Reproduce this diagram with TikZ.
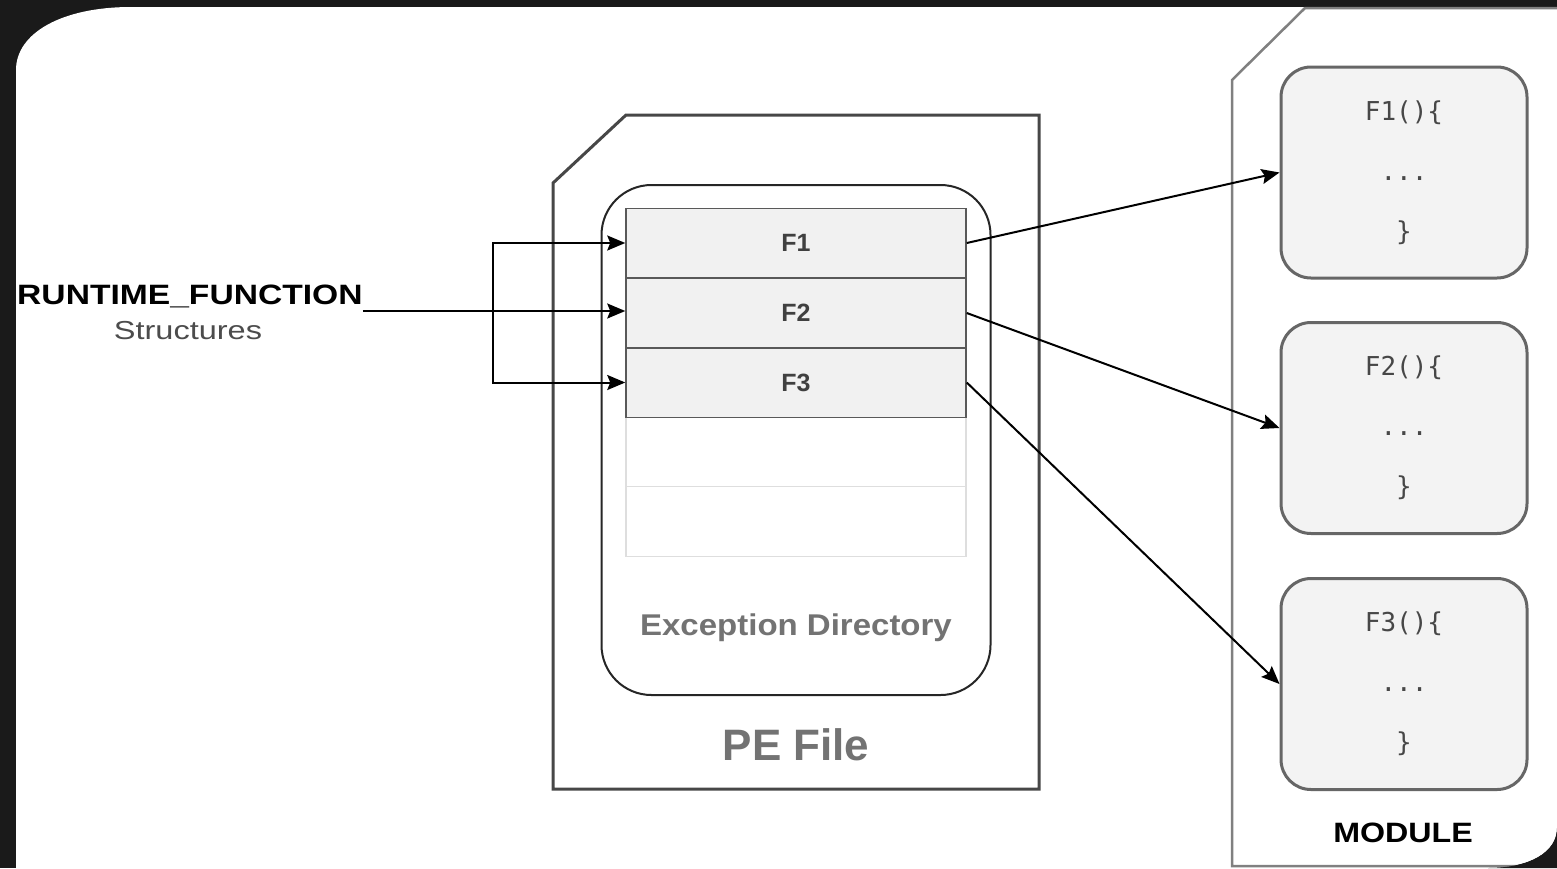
\documentclass[tikz,border=0pt]{standalone}
\usepackage{fontspec}
\setmainfont{Liberation Sans}
\setmonofont{DejaVu Sans Mono}
\usetikzlibrary{arrows.meta}
\definecolor{bgdark}{HTML}{1A1A1A}
\definecolor{rowfill}{HTML}{F1F1F1}
\definecolor{funcfill}{HTML}{F3F3F3}
\tikzset{
  arr/.style={-{Stealth[length=18pt,width=15pt,inset=3pt]},line width=2pt},
  pefile/.style={draw=black!72,line width=3pt},
  modshape/.style={draw=black!50,line width=2.5pt},
  dirbox/.style={draw=black!85,line width=2pt,rounded corners=50pt,minimum width=389pt,minimum height=510pt},
  rowbox/.style={draw=black!65,fill=rowfill,line width=1.5pt,minimum width=340pt,minimum height=69.5pt,inner sep=0pt,
    font=\bfseries\fontsize{25}{28}\selectfont,text=black!75},
  emptyrow/.style={draw=black!13,line width=1.2pt,minimum width=340pt,minimum height=69.5pt,inner sep=0pt},
  funcbox/.style={draw=black!60,fill=funcfill,line width=3pt,rounded corners=30pt,minimum width=246pt,minimum height=211pt,
    align=center,font=\ttfamily\fontsize{26}{60}\selectfont,text=black!72}
}
\begin{document}
\begin{tikzpicture}[x=1pt,y=-1pt]
  \useasboundingbox (0,0) rectangle (1557,868);
  \fill[bgdark] (0,0) rectangle (1557,868);
  \fill[white] (16,868) -- (16,70) .. controls (16,33) and (62,7) .. (131,7) -- (1557,7) -- (1557,828)
    .. controls (1557,852) and (1530,868) .. (1488,868) -- cycle;

  % pe file
  \draw[pefile] (553,183) -- (626,115) -- (1039,115) -- (1039,789) -- (553,789) -- cycle;
  \node[dirbox] (dir) at (796,440) {};
  \node[emptyrow] (e4) at (796,452) {};
  \node[emptyrow] (e5) at (796,521.5) {};
  \node[rowbox] (f1) at (796,243) {F1};
  \node[rowbox] (f2) at (796,313) {F2};
  \node[rowbox] (f3) at (796,382.5) {F3};
  \node[font=\bfseries\fontsize{30}{34}\selectfont,text=black!55,xscale=1.1] (exlbl) at (796,628) {Exception Directory};
  \node[font=\bfseries\fontsize{44}{48}\selectfont,text=black!55] (pelbl) at (796,745) {PE File};

  % runtime_function
  \node[anchor=base west,inner sep=0pt,font=\bfseries\fontsize{28}{32}\selectfont,xscale=1.2] (rt) at (17,304) {RUNTIME\_FUNCTION};
  \node[anchor=base,inner sep=0pt,font=\fontsize{26}{30}\selectfont,text=black!70,xscale=1.25] (st) at (188,339) {Structures};
  \coordinate (rtend) at (rt.base east |- 0,311);
  \coordinate (jn) at (493,311);
  \draw[arr] (rtend) -- (f2.west |- rtend);
  \draw[arr] (jn) |- (f1.west);
  \draw[arr] (jn) |- (f3.west);

  % module
  \draw[modshape] (1565,866) -- (1232,866) -- (1232,80) -- (1305,8) -- (1565,8);
  \node[funcbox] (m1) at (1404,172.5) {F1()\{\\...\\\}};
  \node[funcbox] (m2) at (1404,428) {F2()\{\\...\\\}};
  \node[funcbox] (m3) at (1404,684) {F3()\{\\...\\\}};
  \node[font=\bfseries\fontsize{28}{32}\selectfont,xscale=1.15] (mlbl) at (1403,833) {MODULE};
  \draw[arr] (f1.east) -- (m1.west);
  \draw[arr] (f2.east) -- (m2.west);
  \draw[arr] (f3.east) -- (m3.west);

  \fill[bgdark] (1557,828) .. controls (1557,852) and (1530,868) .. (1488,868) -- (1557,868) -- cycle;
\end{tikzpicture}
\end{document}
